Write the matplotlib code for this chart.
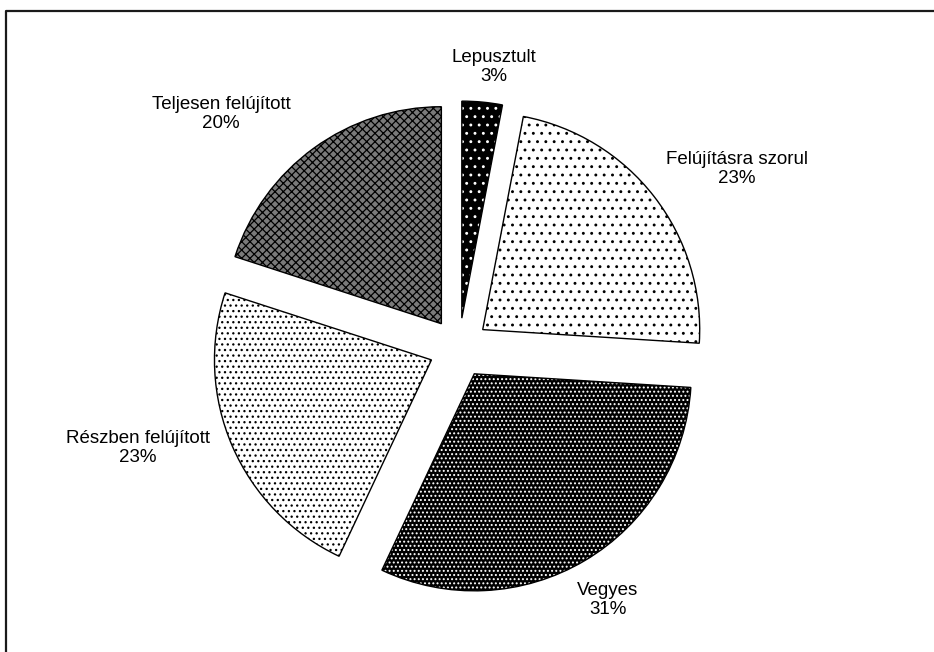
import matplotlib
matplotlib.use("Agg")
import matplotlib.pyplot as plt
from matplotlib.lines import Line2D

plt.rcParams["font.family"] = ["Liberation Sans", "DejaVu Sans"]
plt.rcParams["hatch.linewidth"] = 0.9

# ---- data ----
categories = ["Lepusztult", "Felújításra szorul", "Vegyes",
              "Részben felújított", "Teljesen felújított"]
shares = [3, 23, 31, 23, 20]

# ---- style (per slice) ----
face_colors = ["black", "white", "black", "white", "#7a7a7a"]
hatch_colors = ["white", "black", "white", "black", "black"]
hatches = ["..", "..", "....", "...", "xxxx"]
explode = [30, 30, 30, 30, 30]

# label centres in pixel coords (x, y from top)
label_pos = [(494, 67), (737, 169), (608, 600), (138, 448), (221, 114)]

W, H = 934, 652
CENTER = (459, H - 348)
RADIUS = 217

fig = plt.figure(figsize=(W / 100, H / 100), dpi=100)
ax = fig.add_axes([0, 0, 1, 1])

# hatched fill
wedges, _ = ax.pie(shares, explode=explode, startangle=90, counterclock=False,
                   center=CENTER, radius=RADIUS, frame=True,
                   wedgeprops=dict(linewidth=0))
for w, fc, hc, h in zip(wedges, face_colors, hatch_colors, hatches):
    w.set_facecolor(fc)
    w.set_edgecolor(hc)
    w.set_hatch(h)

# outlines
ax.pie(shares, explode=explode, startangle=90, counterclock=False,
       center=CENTER, radius=RADIUS, frame=True,
       wedgeprops=dict(fill=False, edgecolor="black", linewidth=1.0))

total = sum(shares)
for name, val, (px, py) in zip(categories, shares, label_pos):
    ax.text(px, H - py, f"{name}\n{round(100 * val / total)}%",
            ha="center", va="center", multialignment="center",
            fontsize=13.5, linespacing=1.15)

ax.set_xlim(0, W)
ax.set_ylim(0, H)
ax.set_aspect("equal")
ax.axis("off")

# chart border (only left and top visible)
fig.add_artist(Line2D([6 / W, 6 / W, 1], [0, 1 - 11 / H, 1 - 11 / H],
                      transform=fig.transFigure, color="#1a1a1a", lw=1.6))

fig.savefig("out.png", dpi=100)
